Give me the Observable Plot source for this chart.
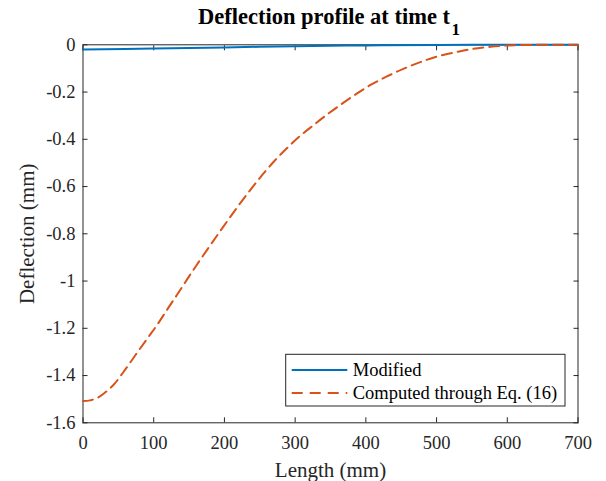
<!DOCTYPE html>
<html>
<head>
<meta charset="utf-8">
<script src="https://cdn.jsdelivr.net/npm/d3@7"></script>
<script src="https://cdn.jsdelivr.net/npm/@observablehq/plot@0.6"></script>
<style>
  html, body { margin: 0; padding: 0; background: white; }
</style>
</head>
<body>
<div id="chart"></div>
<script>
// ---- Data ----
const titleMain = "Deflection profile at time t";
const titleSub = "1";
const xLabel = "Length (mm)";
const yLabel = "Deflection (mm)";
const seriesNames = ["Modified", "Computed through Eq. (16)"];

const xTicks = [0, 100, 200, 300, 400, 500, 600, 700];
const yTicks = [0, -0.2, -0.4, -0.6, -0.8, -1, -1.2, -1.4, -1.6];
const yTickLabels = ["0", "-0.2", "-0.4", "-0.6", "-0.8", "-1", "-1.2", "-1.4", "-1.6"];

const modifiedX = [0, 100, 200, 300, 400, 500, 600, 700];
const modifiedY = [-0.020, -0.016, -0.011, -0.006, -0.0025, -0.0007, 0, 0];

const computedX = [0, 10, 20, 30, 43, 57, 74, 91, 105, 119, 133, 147, 161, 178, 192, 206, 220, 237, 253, 270, 289, 307, 326, 344, 366, 387, 408, 429, 453, 476, 500, 528, 552, 576, 600, 625, 650, 700];
const computedY = [-1.508, -1.505, -1.495, -1.475, -1.44, -1.386, -1.314, -1.243, -1.185, -1.121, -1.058, -0.994, -0.931, -0.857, -0.797, -0.738, -0.680, -0.613, -0.553, -0.494, -0.436, -0.386, -0.340, -0.298, -0.250, -0.207, -0.168, -0.135, -0.102, -0.0745, -0.050, -0.031, -0.017, -0.0085, -0.003, -0.001, 0, 0];

const colors = ["#0072BD", "#D95319"];

// ---- Build tables ----
const modified = modifiedX.map((x, i) => ({x, y: modifiedY[i]}));
const computed = computedX.map((x, i) => ({x, y: computedY[i]}));
const yFmt = new Map(yTicks.map((v, i) => [v, yTickLabels[i]]));

const font = "'Liberation Serif', 'Times New Roman', serif";
const axisColor = "#262626";
const dash = "10,6";

const svg = Plot.plot({
  width: 606,
  height: 481,
  marginLeft: 82.5,
  marginRight: 28.5,
  marginTop: 44.3,
  marginBottom: 58.7,
  style: {fontFamily: font, fontSize: "18.5px", color: axisColor, background: "white"},
  x: {domain: [0, 700]},
  y: {domain: [-1.6, 0]},
  marks: [
    Plot.frame({stroke: axisColor, strokeWidth: 1}),
    Plot.axisX({ticks: xTicks, tickSize: -5, tickPadding: 18, label: null, tickFormat: d => String(d)}),
    Plot.axisX({anchor: "top", ticks: xTicks, tickSize: -5, label: null, tickFormat: () => ""}),
    Plot.axisY({ticks: yTicks, tickSize: -5, tickPadding: 12.5, label: null, tickFormat: d => yFmt.get(d) ?? String(d)}),
    Plot.axisY({anchor: "right", ticks: yTicks, tickSize: -5, label: null, tickFormat: () => ""}),
    Plot.line(modified, {x: "x", y: "y", stroke: colors[0], strokeWidth: 2, curve: "catmull-rom"}),
    Plot.line(computed, {x: "x", y: "y", stroke: colors[1], strokeWidth: 2, strokeDasharray: dash, curve: "catmull-rom"}),
    Plot.text([titleMain], {frameAnchor: "top", text: d => d, textAnchor: "end", lineAnchor: "bottom", dx: 119.5, dy: -21, fontWeight: "bold", fontSize: 22.5, fill: "black"}),
    Plot.text([titleSub], {frameAnchor: "top", text: d => d, textAnchor: "start", lineAnchor: "bottom", dx: 121, dy: -10, fontWeight: "bold", fontSize: 17, fill: "black"}),
    Plot.text([xLabel], {frameAnchor: "bottom", text: d => d, textAnchor: "middle", lineAnchor: "bottom", dy: 53.7, fontSize: 21, fill: axisColor}),
    Plot.text([yLabel], {frameAnchor: "left", text: d => d, textAnchor: "middle", rotate: -90, dx: -55.5, fontSize: 21, fill: axisColor})
  ]
});

// ---- Legend (box inside the axes, lower right) ----
const L = d3.select(svg).append("g").attr("class", "legend").attr("text-anchor", "start");
L.append("rect").attr("x", 285.7).attr("y", 354.3).attr("width", 279.3).attr("height", 51.7)
  .attr("fill", "white").attr("stroke", axisColor).attr("stroke-width", 1);
const rowsY = [370, 393];
seriesNames.forEach((name, i) => {
  L.append("line").attr("x1", 291.7).attr("x2", 347.3).attr("y1", rowsY[i]).attr("y2", rowsY[i])
    .attr("stroke", colors[i]).attr("stroke-width", 2)
    .attr("stroke-dasharray", i === 1 ? "11,7" : null);
  L.append("text").attr("x", 352.7).attr("y", rowsY[i]).attr("dy", "0.32em")
    .attr("text-anchor", "start")
    .attr("fill", "black").style("font-family", font).style("font-size", "18.5px").text(name);
});

document.getElementById("chart").appendChild(svg);
</script>
</body>
</html>
